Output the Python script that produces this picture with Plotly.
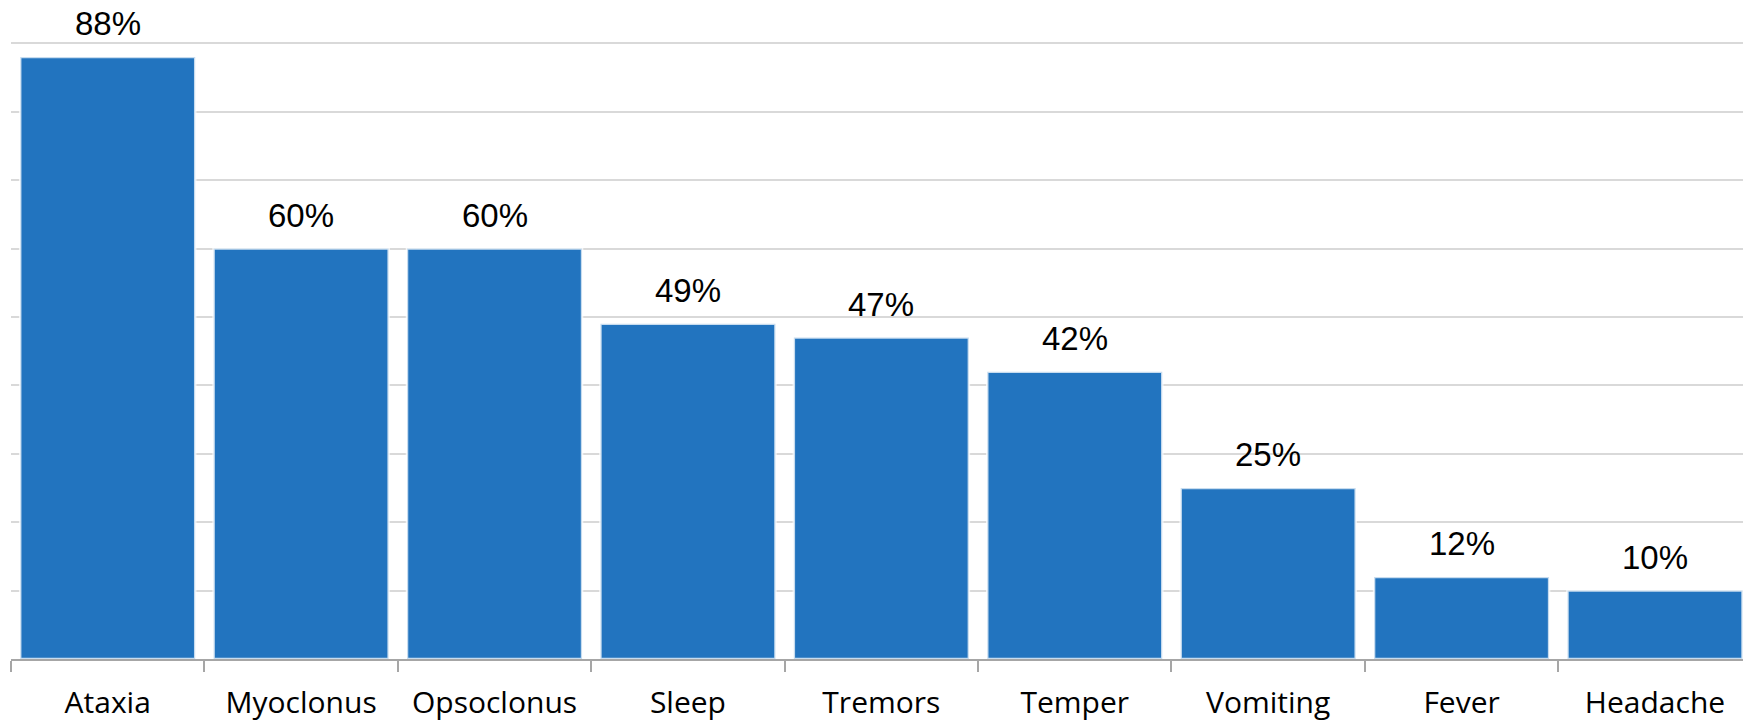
import plotly.graph_objects as go

categories = ["Ataxia", "Myoclonus", "Opsoclonus", "Sleep", "Tremors", "Temper",
              "Vomiting", "Fever", "Headache"]
values = [88, 60, 60, 49, 47, 42, 25, 12, 10]
labels = [f"{v}%" for v in values]

TICK_FONT = "Open Sans"
LABEL_FONT = "Liberation Sans"
BAR = "#2274bf"

fig = go.Figure()
fig.add_trace(go.Bar(
    x=categories, y=values,
    marker=dict(color=BAR, line=dict(width=2.5, color="rgba(255,255,255,0.75)")),
    width=0.905,
    hoverinfo="skip",
))

for c, v, t in zip(categories, values, labels):
    fig.add_annotation(x=c, y=v, text=t, showarrow=False, yanchor="bottom",
                       yshift=13, font=dict(family=LABEL_FONT, size=33, color="#000000"))

fig.update_layout(
    width=1743, height=721,
    margin=dict(l=11, r=0, t=40, b=62),
    paper_bgcolor="white", plot_bgcolor="white",
    showlegend=False,
    font=dict(family=TICK_FONT, size=30, color="#000000"),
    xaxis=dict(
        range=[-0.5, 8.455],
        showgrid=False,
        showline=True, linecolor="#a6a6a6", linewidth=1.5,
        ticks="outside", tickson="boundaries", ticklen=11, tickcolor="#a6a6a6", tickwidth=1.5,
        tickfont=dict(family=TICK_FONT, size=30, color="#000000"),
        ticklabelstandoff=16,
        fixedrange=True,
    ),
    yaxis=dict(
        range=[0, 90.5], tick0=0, dtick=10,
        showgrid=True, gridcolor="#d9d9d9", gridwidth=1.5,
        showticklabels=False, zeroline=False, showline=False, ticks="",
        fixedrange=True,
    ),
)

fig.write_html("out.html")
